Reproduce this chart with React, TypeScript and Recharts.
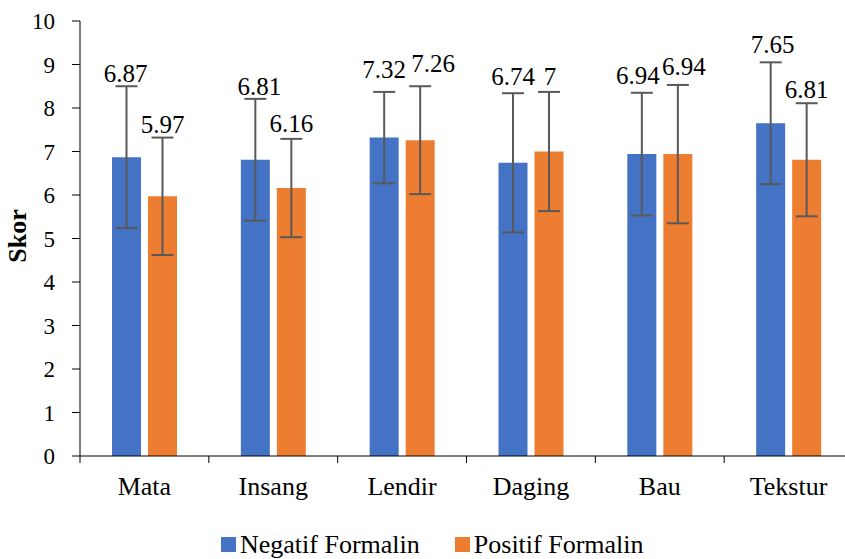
import { BarChart, Bar, XAxis, YAxis, ErrorBar, LabelList, Legend } from "recharts";

const categories = ["Mata", "Insang", "Lendir", "Daging", "Bau", "Tekstur"];
const negatif = [6.87, 6.81, 7.32, 6.74, 6.94, 7.65];
const positif = [5.97, 6.16, 7.26, 7, 6.94, 6.81];
const negatifErr = [1.63, 1.4, 1.05, 1.6, 1.41, 1.4];
const positifErr = [1.35, 1.13, 1.24, 1.37, 1.59, 1.3];
const yTicks = [0, 1, 2, 3, 4, 5, 6, 7, 8, 9, 10];
const seriesNames = ["Negatif Formalin", "Positif Formalin"];

// label nudges (px) relative to the error bar top, as placed in the original
const negLabelShift = [
  [-1, -4], [4, -4], [0, -14], [0, -8], [-4, -9], [2, -9],
];
const posLabelShift = [
  [0, -5], [0, -7], [13, -14], [1, -7], [6, -10], [0, -5],
];

const BLUE = "#4472C4";
const ORANGE = "#ED7D31";
const FONT = "'Liberation Serif', 'Times New Roman', serif";

const data = categories.map((name, i) => ({
  name,
  negatif: negatif[i],
  positif: positif[i],
  negatifErr: negatifErr[i],
  positifErr: positifErr[i],
}));

const CHART_W = 860;
const PLOT_LEFT = 80;
const PLOT_RIGHT = 853;
const BAND = (PLOT_RIGHT - PLOT_LEFT) / categories.length;

function makeLabel(errs: number[], shift: number[][]) {
  return (props: any) => {
    const { x, y, width, height, value, index } = props;
    const pxPerUnit = height / value;
    const top = y - errs[index] * pxPerUnit;
    const [dx, dy] = shift[index];
    return (
      <text
        x={x + width / 2 + dx}
        y={top + dy}
        textAnchor="middle"
        fontFamily={FONT}
        fontSize={25}
        fill="#000"
      >
        {value}
      </text>
    );
  };
}

function XTick(props: any) {
  const { x, y, payload } = props;
  const left = x - BAND / 2;
  return (
    <g>
      <line x1={left} y1={y} x2={left} y2={y + 7} stroke="#000" strokeWidth={1} />
      <text x={x} y={y + 39} textAnchor="middle" fontFamily={FONT} fontSize={26} fill="#000">
        {payload.value}
      </text>
    </g>
  );
}

function LegendContent() {
  const colors = [BLUE, ORANGE];
  return (
    <div
      style={{
        height: 29,
        display: "flex",
        alignItems: "center",
        paddingLeft: 221,
        fontFamily: FONT,
        fontSize: 26,
        color: "#000",
        lineHeight: "29px",
      }}
    >
      {seriesNames.map((n, i) => (
        <div key={n} style={{ display: "flex", alignItems: "center", marginRight: 35 }}>
          <span style={{ width: 15, height: 15, background: colors[i], marginRight: 4 }} />
          <span style={{ whiteSpace: "nowrap" }}>{n}</span>
        </div>
      ))}
    </div>
  );
}

export default function App() {
  return (
    <div
      style={{
        position: "absolute",
        left: 0,
        top: 0,
        width: 845,
        height: 559,
        overflow: "hidden",
        background: "#fff",
      }}
    >
      <BarChart
        width={CHART_W}
        height={559}
        data={data}
        margin={{ top: 21, right: CHART_W - PLOT_RIGHT, bottom: 0, left: 0 }}
        barSize={29}
        barGap={7}
      >
        <XAxis
          dataKey="name"
          height={74}
          tickLine={false}
          tickSize={0}
          tickMargin={0}
          stroke="#000"
          tick={<XTick />}
          interval={0}
        />
        <YAxis
          width={PLOT_LEFT}
          domain={[0, 10]}
          ticks={yTicks}
          interval={0}
          tickSize={8}
          tickMargin={17}
          stroke="#000"
          tick={{ fill: "#000", fontFamily: FONT, fontSize: 23 }}
          allowDataOverflow
          label={() => (
            <text
              x={17}
              y={236}
              transform="rotate(-90 17 236)"
              textAnchor="middle"
              dominantBaseline="central"
              fontFamily={FONT}
              fontSize={26}
              fontWeight="bold"
              fill="#000"
            >
              Skor
            </text>
          )}
        />
        <Legend
          verticalAlign="bottom"
          content={<LegendContent />}
          wrapperStyle={{ left: 0, bottom: 0, width: 845, height: 29 }}
        />
        <Bar dataKey="negatif" name={seriesNames[0]} fill={BLUE} isAnimationActive={false}>
          <ErrorBar dataKey="negatifErr" width={11} stroke="#595959" strokeWidth={2} isAnimationActive={false} />
          <LabelList dataKey="negatif" content={makeLabel(negatifErr, negLabelShift)} />
        </Bar>
        <Bar dataKey="positif" name={seriesNames[1]} fill={ORANGE} isAnimationActive={false}>
          <ErrorBar dataKey="positifErr" width={11} stroke="#595959" strokeWidth={2} isAnimationActive={false} />
          <LabelList dataKey="positif" content={makeLabel(positifErr, posLabelShift)} />
        </Bar>
      </BarChart>
    </div>
  );
}
